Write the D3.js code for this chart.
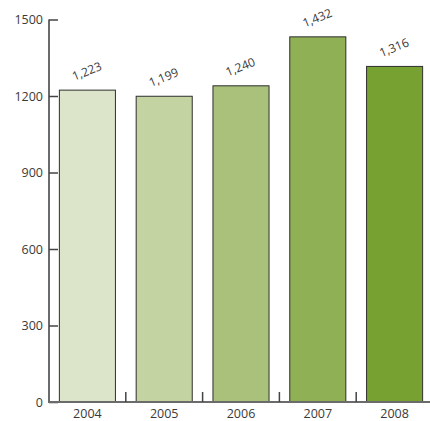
<!DOCTYPE html>
<html>
<head>
<meta charset="utf-8">
<script src="https://cdn.jsdelivr.net/npm/d3@7"></script>
<style>
  html, body { margin: 0; padding: 0; background: #fff; }
  svg { display: block; }
  text { font-family: "Open Sans", Lato, sans-serif; fill: #3a3a3a; }
</style>
</head>
<body>
<svg id="chart" width="430" height="421"></svg>
<script>
// Annual totals
const years = ["2004", "2005", "2006", "2007", "2008"];
const values = [1223, 1199, 1240, 1432, 1316];
const valueLabels = ["1,223", "1,199", "1,240", "1,432", "1,316"];
const barColors = ["#dce5c9", "#c3d4a2", "#a9c17b", "#8fb054", "#77a231"];
const yTicks = [0, 300, 600, 900, 1200, 1500];

const svg = d3.select("#chart");
const plotLeft = 49, plotRight = 433, plotTop = 19.5, plotBottom = 402;

const x = d3.scaleBand().domain(years).range([plotLeft, plotRight])
  .paddingInner(0.27).paddingOuter(0.135);
const y = d3.scaleLinear().domain([0, 1500]).range([plotBottom, plotTop]);

// Bars
svg.append("g").selectAll("rect").data(years).join("rect")
  .attr("x", d => x(d))
  .attr("y", (d, i) => y(values[i]))
  .attr("width", x.bandwidth())
  .attr("height", (d, i) => y(0) - y(values[i]))
  .attr("fill", (d, i) => barColors[i])
  .attr("stroke", "#2e2e2e")
  .attr("stroke-width", 1);

// Value labels, tilted
svg.append("g").selectAll("text").data(years).join("text")
  .attr("transform", (d, i) => `translate(${x(d) + x.bandwidth() / 2 + 1},${y(values[i]) - 15}) rotate(-22)`)
  .attr("text-anchor", "middle")
  .style("font-size", "12px")
  .text((d, i) => valueLabels[i]);

// Y axis
const yAxis = d3.axisRight(y).tickValues(yTicks).tickSize(9).tickFormat(d3.format("d"));
const gy = svg.append("g").attr("transform", `translate(${plotLeft},0)`).call(yAxis);
gy.select(".domain").attr("stroke", "#6b6b6b").attr("stroke-width", 2)
  .attr("d", `M0,${plotTop}V${plotBottom}`);
gy.selectAll(".tick line").attr("stroke", "#444").attr("stroke-width", 1.5);
gy.selectAll(".tick text")
  .attr("x", -6).attr("text-anchor", "end")
  .style("font-size", "12.5px").style("font-family", "'Open Sans', Lato, sans-serif")
  .attr("fill", "#3a3a3a");

// X axis baseline with ticks between categories
const gx = svg.append("g");
gx.append("line").attr("x1", plotLeft - 1).attr("x2", 430)
  .attr("y1", plotBottom).attr("y2", plotBottom)
  .attr("stroke", "#6b6b6b").attr("stroke-width", 2);
gx.selectAll("line.sep").data(years.slice(1)).join("line")
  .attr("class", "sep")
  .attr("x1", d => x(d) - x.step() * x.paddingInner() / 2)
  .attr("x2", d => x(d) - x.step() * x.paddingInner() / 2)
  .attr("y1", plotBottom).attr("y2", plotBottom - 10)
  .attr("stroke", "#444").attr("stroke-width", 1.5);
gx.selectAll("text").data(years).join("text")
  .attr("x", d => x(d) + x.bandwidth() / 2)
  .attr("y", 418)
  .attr("text-anchor", "middle")
  .style("font-size", "12.5px")
  .text(d => d);
</script>
</body>
</html>
